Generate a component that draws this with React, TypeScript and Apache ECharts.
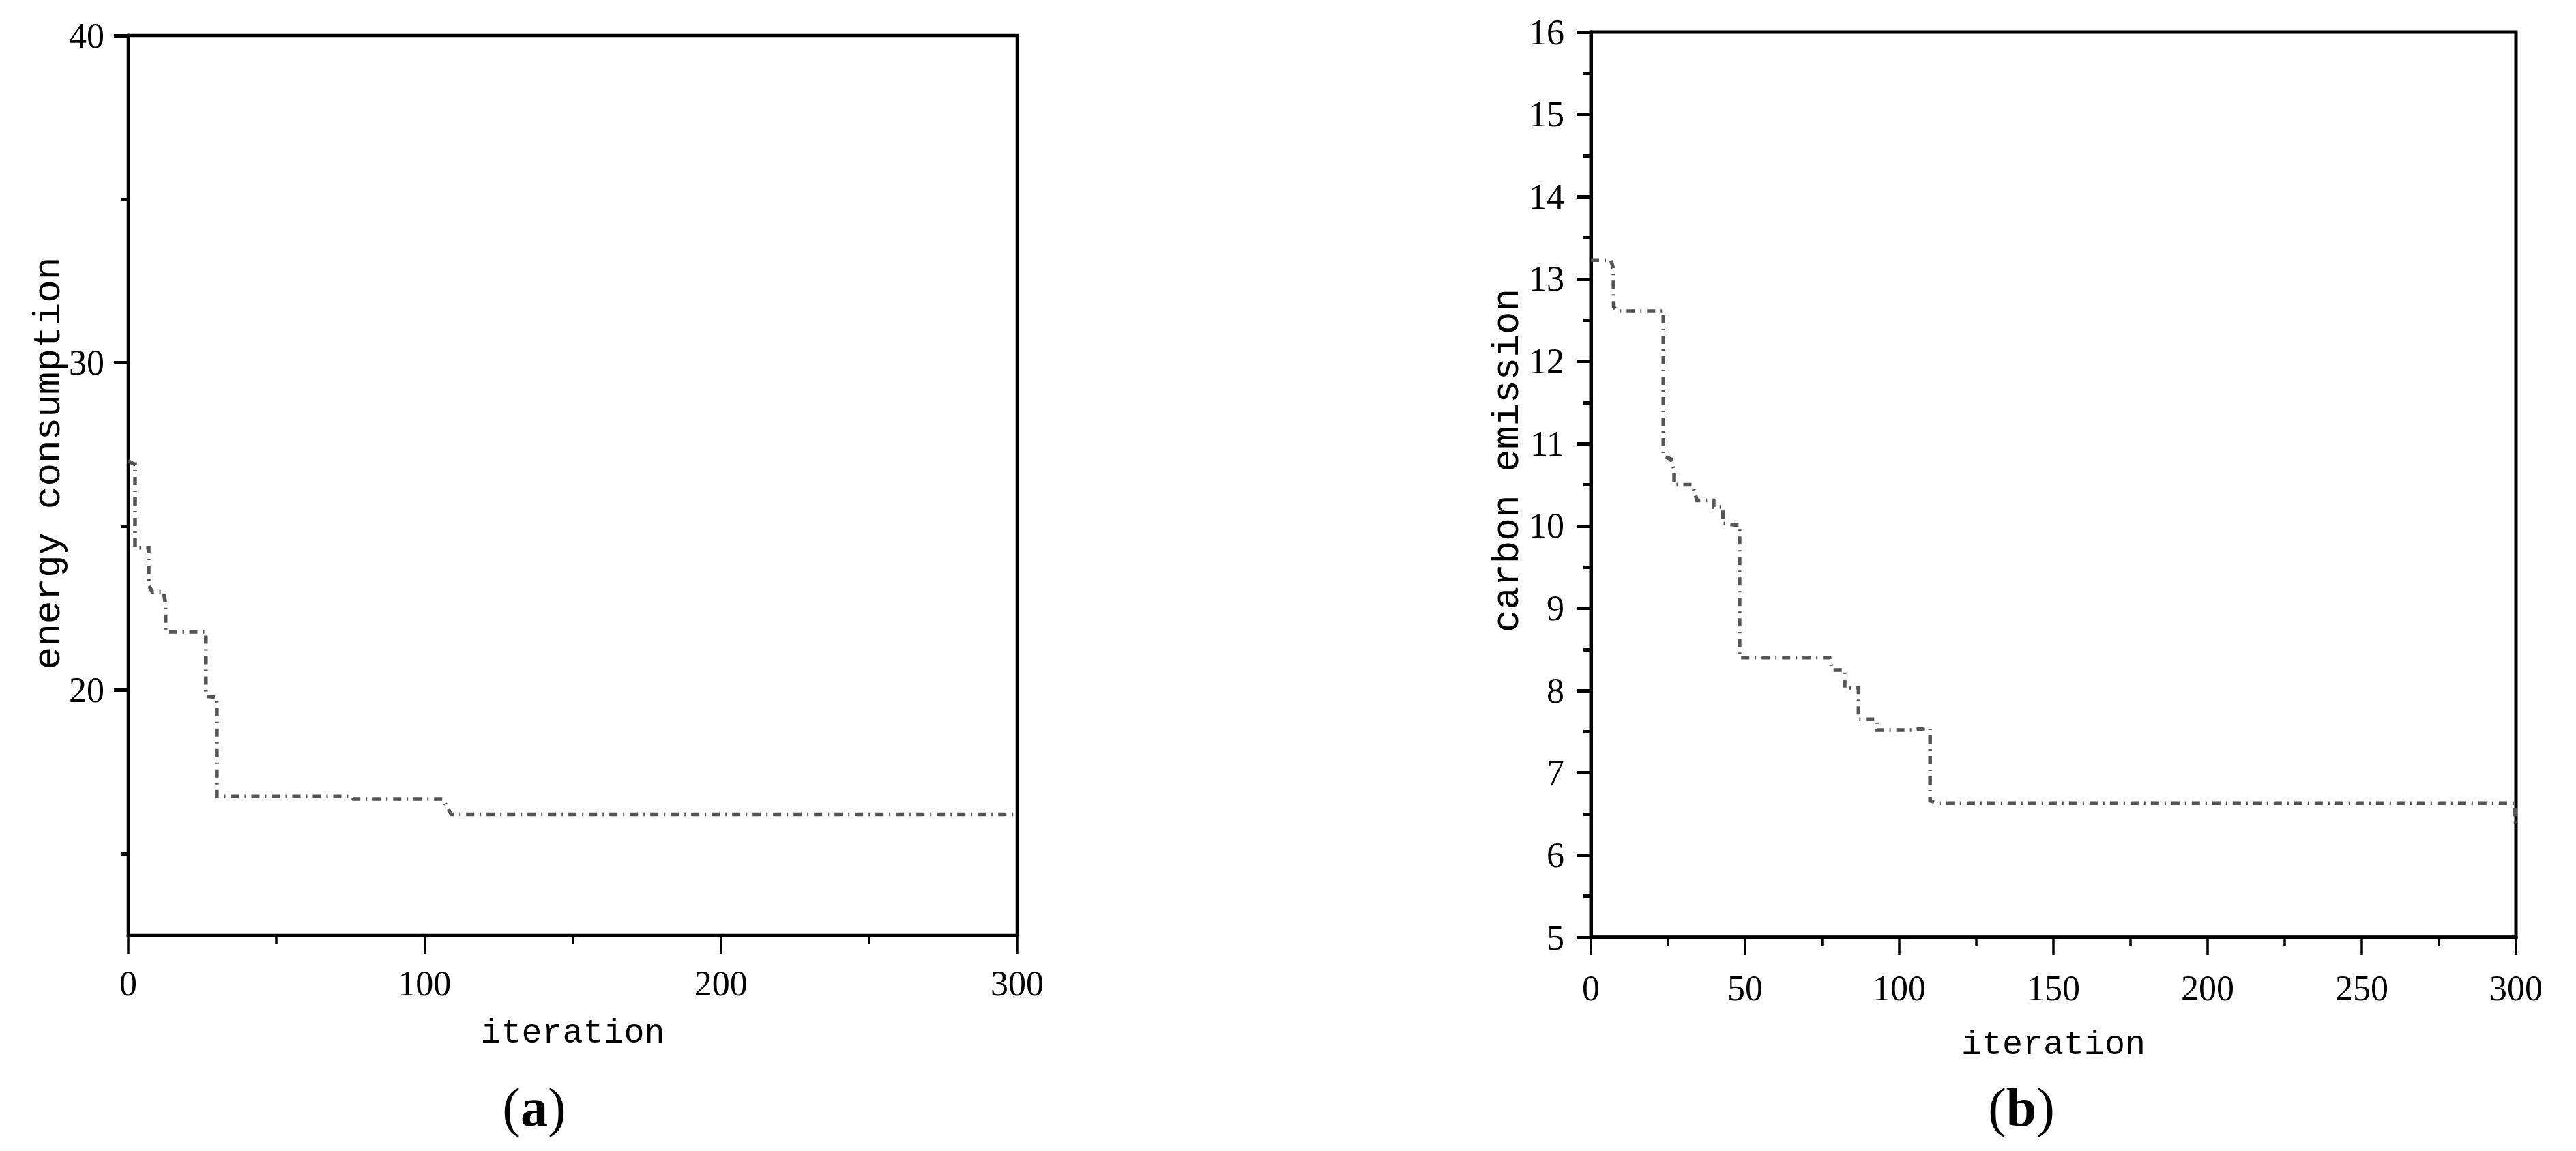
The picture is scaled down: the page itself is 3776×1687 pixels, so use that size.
import React, { useEffect, useRef } from 'react';
import * as echarts from 'echarts';

// Panel (a): energy consumption vs iteration
const energyIter = [0, 2, 2.3, 2.3, 6.9, 6.9, 8.1, 12, 12.6, 12.6, 26.2, 26.2, 29.7, 29.9, 29.9, 75.5, 76, 106, 109, 300];
const energyValue = [27.0, 26.9, 26.9, 24.35, 24.35, 23.2, 23.0, 23.0, 22.6, 21.78, 21.78, 19.81, 19.78, 19.6, 16.75, 16.75, 16.67, 16.67, 16.2, 16.2];
const energyYLabels = [20, 30, 40];
const energyYMinor = [15, 25, 35];

// Panel (b): carbon emission vs iteration
const carbonIter = [0, 6.5, 7.3, 7.4, 8.7, 23.5, 23.5, 26, 27, 27, 32.9, 34.4, 39.8, 39.8, 42.8, 42.8, 47.2, 48.2, 48.2, 77.4, 78.3, 82.3, 82.3, 86.8, 86.8, 92.7, 92.7, 103.5, 108.6, 110, 110, 112.8, 299.5, 300];
const carbonValue = [13.23, 13.23, 13.12, 12.66, 12.61, 12.61, 10.85, 10.81, 10.68, 10.5, 10.5, 10.31, 10.31, 10.23, 10.23, 10.03, 10.01, 10.01, 8.4, 8.4, 8.25, 8.25, 8.03, 8.03, 7.65, 7.65, 7.52, 7.52, 7.54, 7.54, 6.66, 6.63, 6.63, 6.32];

const xName = 'iteration';
const yNameA = 'energy consumption';
const yNameB = 'carbon emission';

const LABEL_FONT = 'Liberation Serif';
const NAME_FONT = 'Liberation Mono';

export default function App() {
  const ref = useRef<HTMLDivElement>(null);
  useEffect(() => {
    if (!ref.current) return;
    const chart = echarts.init(ref.current, undefined, { renderer: 'svg' });
    const axisLabel = { color: '#000', fontFamily: LABEL_FONT, fontSize: 52 };
    const lineStyle = { color: '#555555', width: 5.5, type: [12, 8, 2, 8] as any, cap: 'butt' as any, join: 'miter' as any };
    const nameStyle = { color: '#000', fontFamily: NAME_FONT, fontSize: 50 };
    const option: any = {
      animation: false,
      backgroundColor: '#fff',
      grid: [
        { left: 188, top: 52, width: 1303, height: 1319, show: true, borderColor: '#000', borderWidth: 4.5, backgroundColor: 'transparent' },
        { left: 2332, top: 47, width: 1356, height: 1327, show: true, borderColor: '#000', borderWidth: 5, backgroundColor: 'transparent' },
      ],
      xAxis: [
        {
          type: 'value', gridIndex: 0, min: 0, max: 300, interval: 100,
          name: xName, nameLocation: 'middle', nameGap: 118, nameTextStyle: nameStyle,
          axisLine: { show: true, lineStyle: { color: '#000', width: 4.5 } },
          axisTick: { show: true, length: 27, lineStyle: { color: '#000', width: 3.5 } },
          minorTick: { show: true, splitNumber: 2, length: 13, lineStyle: { color: '#000', width: 3.5 } },
          axisLabel: { ...axisLabel, margin: 44 },
          splitLine: { show: false },
        },
        {
          type: 'value', gridIndex: 1, min: 0, max: 300, interval: 50,
          name: xName, nameLocation: 'middle', nameGap: 132, nameTextStyle: nameStyle,
          axisLine: { show: true, lineStyle: { color: '#000', width: 5.5 } },
          axisTick: { show: true, length: 25, lineStyle: { color: '#000', width: 3.5 } },
          minorTick: { show: true, splitNumber: 2, length: 13, lineStyle: { color: '#000', width: 3.5 } },
          axisLabel: { ...axisLabel, margin: 48 },
          splitLine: { show: false },
        },
      ],
      yAxis: [
        {
          type: 'value', gridIndex: 0, min: 12.5, max: 40, position: 'left',
          axisLine: { show: true, lineStyle: { color: '#000', width: 5 } },
          axisTick: { show: true, length: 21, customValues: energyYLabels, lineStyle: { color: '#000', width: 5 } },
          axisLabel: { ...axisLabel, margin: 35, customValues: energyYLabels },
          splitLine: { show: false },
        },
        {
          type: 'value', gridIndex: 0, min: 12.5, max: 40, position: 'left',
          axisLine: { show: false },
          axisTick: { show: true, length: 11, customValues: energyYMinor, lineStyle: { color: '#000', width: 5 } },
          axisLabel: { show: false },
          splitLine: { show: false },
        },
        {
          type: 'value', gridIndex: 1, min: 5, max: 16, interval: 1, position: 'left',
          axisLine: { show: true, lineStyle: { color: '#000', width: 5 } },
          axisTick: { show: true, length: 21, lineStyle: { color: '#000', width: 5 } },
          minorTick: { show: true, splitNumber: 2, length: 11, lineStyle: { color: '#000', width: 5 } },
          axisLabel: { ...axisLabel, margin: 39 },
          splitLine: { show: false },
        },
      ],
      series: [
        {
          type: 'line', xAxisIndex: 0, yAxisIndex: 0, showSymbol: false, symbol: 'none',
          data: energyIter.map((x, i) => [x, energyValue[i]]),
          lineStyle,
        },
        {
          type: 'line', xAxisIndex: 1, yAxisIndex: 2, showSymbol: false, symbol: 'none',
          data: carbonIter.map((x, i) => [x, carbonValue[i]]),
          lineStyle,
        },
      ],
      graphic: [
        {
          type: 'text', x: 72, y: 679, rotation: Math.PI / 2,
          style: { text: yNameA, fill: '#000', font: `56px "${NAME_FONT}"`, align: 'center', verticalAlign: 'middle' },
        },
        {
          type: 'text', x: 2210, y: 675, rotation: Math.PI / 2,
          style: { text: yNameB, fill: '#000', font: `56px "${NAME_FONT}"`, align: 'center', verticalAlign: 'middle' },
        },
        {
          type: 'text', x: 783, y: 1623,
          style: {
            text: '{p|(}{b|a}{p|)}', align: 'center', verticalAlign: 'middle',
            rich: {
              p: { fontFamily: LABEL_FONT, fontSize: 80, fill: '#000' },
              b: { fontFamily: LABEL_FONT, fontSize: 80, fontWeight: 'bold', fill: '#000' },
            },
          },
        },
        {
          type: 'text', x: 2963, y: 1623,
          style: {
            text: '{p|(}{b|b}{p|)}', align: 'center', verticalAlign: 'middle',
            rich: {
              p: { fontFamily: LABEL_FONT, fontSize: 80, fill: '#000' },
              b: { fontFamily: LABEL_FONT, fontSize: 80, fontWeight: 'bold', fill: '#000' },
            },
          },
        },
      ],
    };
    chart.setOption(option);
    return () => chart.dispose();
  }, []);
  return (
    <div
      ref={ref}
      style={{ position: 'absolute', left: 0, top: 0, width: 3776, height: 1687, background: '#fff' }}
    />
  );
}
